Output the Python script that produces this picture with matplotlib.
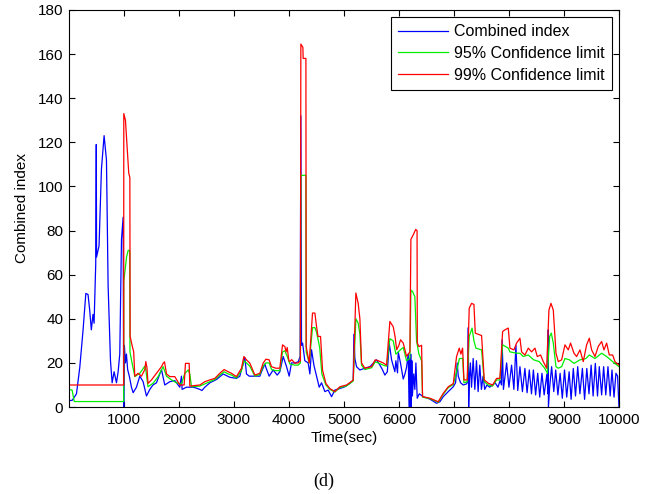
import numpy as np
import matplotlib
matplotlib.use('Agg')
import matplotlib.pyplot as plt

# Combined index (blue)
blue_t = [0, 10, 60, 140, 200, 260, 310, 350, 380, 410, 440, 460, 490, 500, 505, 550, 594, 642, 685, 715,
          758, 788, 824, 867, 897, 927, 958, 988, 998, 1010, 1030, 1048, 1070, 1100, 1139, 1170, 1230, 1291,
          1351, 1412, 1473, 1530, 1594, 1685, 1745, 1836, 1927, 2018, 2048, 2060, 2139, 2260, 2330, 2382,
          2420, 2473, 2564, 2685, 2806, 2927, 3048, 3109, 3139, 3170, 3200, 3230, 3279, 3382, 3473, 3503,
          3564, 3582, 3642, 3715, 3788, 3836, 3897, 3958, 4006, 4048, 4109, 4170, 4205, 4218, 4230, 4250,
          4290, 4351, 4382, 4412, 4455, 4503, 4552, 4594, 4655, 4715, 4776, 4836, 4927, 5018, 5109, 5170,
          5182, 5200, 5230, 5291, 5382, 5473, 5564, 5594, 5655, 5700, 5745, 5790, 5824, 5867, 5927, 5945,
          5975, 5988, 6030, 6079, 6110, 6139, 6170, 6185, 6195, 6205, 6215, 6225, 6235, 6245, 6270, 6290,
          6309, 6333, 6370, 6442, 6564, 6685, 6745, 6806, 6897, 6988, 7030, 7060, 7079, 7121, 7170, 7230,
          7255, 7262, 7268, 7280, 7300, 7320, 7350, 7380, 7410, 7440, 7470, 7500, 7530, 7560, 7600, 7650,
          7700, 7750, 7800, 7840, 7865, 7876, 7900, 7958, 8000, 8048, 8090, 8127, 8160, 8200, 8245, 8290,
          8330, 8370, 8410, 8444, 8485, 8523, 8560, 8600, 8640, 8690, 8710, 8715, 8718, 8740, 8776, 8815,
          8850, 8890, 8930, 8970, 9010, 9050, 9094, 9130, 9170, 9210, 9250, 9290, 9335, 9375, 9415, 9455,
          9494, 9530, 9570, 9610, 9642, 9685, 9721, 9760, 9800, 9840, 9873, 9910, 9945, 9975, 10000]
blue_v = [24, 3, 3, 6, 18, 35, 51.5, 51, 44, 35, 42, 38, 65, 119, 68, 73, 108, 123, 112, 55,
          21, 11, 16, 11, 16, 24, 76, 86, 0, 28, 20, 24, 17, 14, 9, 6.5, 9, 14,
          11.5, 5, 8, 10, 11, 17, 10, 11.5, 12, 9, 14, 8, 9, 9, 8.5, 8,
          7.5, 9, 11, 12.5, 15, 13.5, 13, 14, 17, 19.5, 22.5, 15, 14, 14, 14, 16,
          19.5, 18, 14, 16.8, 14.5, 16, 22.9, 18.3, 14, 20, 20, 20.5, 23, 132, 28, 29,
          21, 20, 15, 26, 19, 14, 9, 11, 7, 7.7, 4.7, 7.7, 8.4, 9.2, 10.7, 12.2,
          33, 22, 18.3, 16.8, 17.6, 18.3, 20.6, 21.4, 19, 17, 14.5, 16, 29, 21.4, 16, 21,
          15.5, 25, 19.8, 12.7, 15, 18, 24, 0, 22, 0, 24, 0, 21, 5, 15, 8,
          20, 4, 6, 4.7, 3.6, 1.7, 2.4, 4.7, 7, 9.2, 11, 20, 14, 11, 10, 10.5,
          12, 36, 0, 12, 20, 9, 22, 8, 21, 7, 19, 8, 14, 8, 10, 9,
          10, 11, 9, 12, 10, 30.5, 8, 20, 9, 19, 8, 28, 7.5, 18.3, 7, 17.5,
          6.5, 16.8, 6, 16.8, 5.5, 15.3, 4.5, 15.3, 5.5, 15, 6, 35, 0, 9, 18.3, 7,
          16.8, 5.5, 15.3, 4, 16.8, 4.5, 16, 3.5, 17.5, 5, 18.3, 6, 17.5, 3.5, 17.5, 6,
          19, 5, 19.8, 5, 18.3, 5.5, 18.3, 5.5, 18.3, 5, 16.8, 4.5, 15.3, 14, 0]

# 95% confidence limit (green)
green_t = [0, 60, 100, 998, 1000, 1050, 1080, 1108, 1112, 1150, 1200, 1291, 1382, 1400, 1440, 1533, 1624,
           1715, 1776, 1867, 1958, 2048, 2109, 2170, 2200, 2230, 2382, 2473, 2564, 2655, 2745, 2824, 2897,
           2958, 3048, 3139, 3182, 3230, 3291, 3382, 3473, 3533, 3582, 3642, 3685, 3764, 3836, 3885, 3927,
           3970, 4018, 4109, 4170, 4210, 4218, 4310, 4315, 4370, 4430, 4473, 4503, 4560, 4600, 4673, 4745,
           4836, 4927, 5048, 5170, 5218, 5260, 5291, 5321, 5382, 5503, 5570, 5624, 5715, 5776, 5836, 5897,
           5945, 6030, 6079, 6139, 6200, 6218, 6248, 6290, 6321, 6364, 6412, 6430, 6564, 6715, 6806, 6897,
           6988, 7048, 7100, 7160, 7182, 7242, 7278, 7330, 7364, 7400, 7503, 7551, 7624, 7703, 7776, 7836,
           7885, 7988, 8018, 8139, 8200, 8260, 8350, 8450, 8550, 8650, 8700, 8740, 8770, 8806, 8855, 8897,
           8958, 9018, 9100, 9182, 9291, 9400, 9461, 9564, 9685, 9776, 9885, 10000]
green_v = [8, 7.7, 2.5, 2.5, 57, 68, 71, 71, 25, 20, 13.8, 15.3, 18.5, 17, 9.2, 10.8, 13.8,
           18.3, 14, 12.3, 11, 10.5, 15.3, 16.8, 15, 9.2, 9.5, 10.5, 11.5, 12.5, 14.5, 16, 15,
           14.5, 13.2, 16.5, 21, 20, 18.5, 14, 14.8, 18.5, 20, 20, 17, 16.5, 16.5, 25, 25.5,
           23, 19.5, 19, 19, 20, 105, 105, 25, 20, 36, 36, 34, 27, 15, 10, 8,
           6.8, 8.8, 9.6, 11.8, 40, 38, 33, 19, 17, 17.8, 20.5, 20, 19, 18.5, 31, 30,
           24, 26, 27, 21, 22, 53, 52.4, 50, 30, 24, 21, 4.5, 3.8, 2.2, 5.8, 8.8,
           10.2, 16, 22, 22, 11, 11.5, 32, 35.8, 30, 26.7, 25.9, 11.5, 10, 9.5, 12.3, 12.3,
           28.2, 26.7, 25, 24.4, 24.4, 22.9, 23.6, 21.4, 20.6, 17.6, 15.3, 32, 33.5, 29, 18.3, 17.6,
           18.3, 22, 21.4, 19.8, 21.4, 22, 23.6, 22, 24.4, 22.9, 20.6, 18.3]

# 99% confidence limit (red)
red_t = [0, 998, 1000, 1030, 1060, 1090, 1110, 1115, 1150, 1180, 1200, 1260, 1321, 1382, 1400, 1420, 1440,
         1503, 1594, 1685, 1715, 1740, 1776, 1836, 1927, 2018, 2097, 2121, 2188, 2200, 2382, 2473, 2564,
         2655, 2745, 2824, 2897, 2958, 3048, 3139, 3182, 3230, 3291, 3382, 3473, 3533, 3582, 3642, 3685,
         3764, 3836, 3885, 3927, 3950, 3970, 4000, 4018, 4050, 4109, 4170, 4210, 4218, 4255, 4260, 4310,
         4315, 4370, 4430, 4473, 4503, 4530, 4576, 4612, 4673, 4745, 4836, 4927, 5048, 5170, 5218, 5260,
         5291, 5321, 5382, 5503, 5570, 5624, 5715, 5776, 5836, 5897, 5930, 5960, 6000, 6030, 6079, 6139,
         6200, 6218, 6260, 6305, 6330, 6335, 6364, 6412, 6430, 6564, 6715, 6806, 6897, 6988, 7048, 7097,
         7127, 7158, 7182, 7242, 7278, 7321, 7364, 7388, 7442, 7503, 7551, 7624, 7703, 7776, 7836, 7885,
         7927, 7988, 8018, 8091, 8139, 8200, 8230, 8291, 8352, 8412, 8473, 8515, 8576, 8624, 8685, 8727,
         8764, 8806, 8855, 8897, 8958, 9018, 9079, 9120, 9182, 9230, 9291, 9351, 9412, 9461, 9503, 9564,
         9624, 9685, 9727, 9776, 9824, 9885, 9927, 10000]
red_v = [10, 10, 133, 130, 118, 106, 104, 32, 28, 25, 14, 15.3, 14, 17, 20.6, 18, 10.7,
         12.3, 15.3, 18.3, 19.8, 20.5, 15, 13.8, 13.8, 10, 10, 19.8, 19.8, 9.5, 10, 11.5, 12.3,
         13, 15.3, 17, 16, 15.3, 13.8, 17.6, 22.9, 21.4, 19.9, 14.5, 15.3, 19.9, 21.7, 21.4, 18.3,
         17.6, 17.6, 28.2, 27.4, 25, 27, 21, 20.6, 21.5, 19.9, 20, 21, 164.5, 163, 158, 158,
         27.4, 20, 42.6, 42.6, 36.5, 32, 32, 16.8, 10.7, 8.4, 7, 9.2, 10, 12.2, 51.7, 47,
         40, 20, 17.6, 18.3, 21.4, 21, 20, 19, 38.8, 36.4, 32, 26, 28, 30.5, 29, 23,
         25, 76, 78, 80.5, 80, 29, 27.4, 28, 4.7, 4, 2.4, 6.2, 9.2, 10.6, 22.9, 26.7,
         24, 26.7, 12.3, 12.3, 44.8, 47, 46.5, 33.5, 33, 32.4, 12.3, 10.8, 10, 13, 13, 34.2,
         35, 35.8, 26.7, 25.9, 29, 31.2, 25, 23.6, 26.7, 25, 26.7, 22.9, 23.6, 20.6, 17.6, 44,
         47, 44, 24.4, 20.6, 21.4, 28.2, 25.9, 29, 24.4, 22.9, 25.9, 20.6, 28.2, 31.2, 25.9, 22.9,
         27.5, 29.7, 25.9, 29, 23.6, 23.6, 20.6, 19]

xticks = list(range(1000, 10001, 1000))
yticks = list(range(0, 181, 20))

plt.rcParams['font.family'] = ['Liberation Sans', 'DejaVu Sans']

fig = plt.figure(figsize=(6.55, 4.94), dpi=100)
ax = fig.add_axes([0.105, 0.176, 0.840, 0.804])

ax.plot(blue_t, blue_v, color='#0000ff', lw=0.9, label='Combined index')
ax.plot(green_t, green_v, color='#00ee00', lw=0.9, label='95% Confidence limit')
ax.plot(red_t, red_v, color='#ff0000', lw=0.9, label='99% Confidence limit')

ax.set_xlim(0, 10000)
ax.set_ylim(0, 180)
ax.set_xticks(xticks)
ax.set_yticks(yticks)
ax.tick_params(direction='in', top=True, right=True, labelsize=11, length=4, width=0.8, pad=4)
for s in ax.spines.values():
    s.set_linewidth(0.8)

ax.set_xlabel('Time(sec)', fontsize=11, labelpad=3)
ax.set_ylabel('Combined index', fontsize=11, labelpad=6)

leg = ax.legend(loc='upper right', fontsize=11.5, fancybox=False, framealpha=1,
                edgecolor='black', borderaxespad=0.45, handlelength=3.1, handletextpad=0.4,
                labelspacing=0.42, borderpad=0.45)
leg.get_frame().set_linewidth(0.8)

fig.text(0.495, 0.026, '(d)', fontsize=13, family='Liberation Serif', ha='center', va='center')

plt.savefig('out.png', dpi=100)
print('Fertig')
